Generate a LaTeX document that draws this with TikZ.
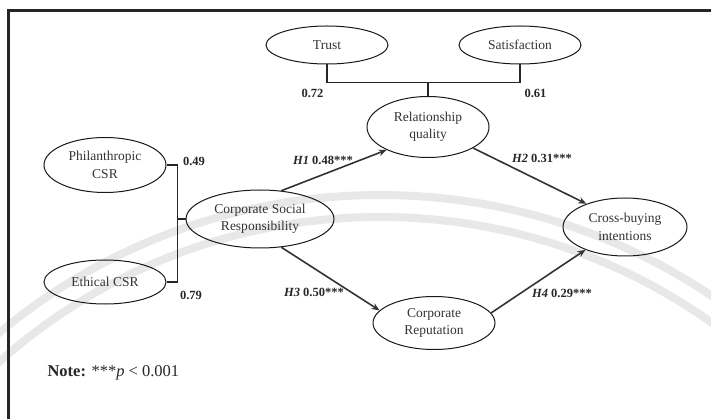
\documentclass[tikz,border=0pt]{standalone}
\usepackage{fontspec}
\setmainfont{Liberation Serif}
\usetikzlibrary{shapes.geometric,arrows.meta,calc}

\begin{document}
\begin{tikzpicture}[x=1pt,y=-1pt,
  latent/.style={ellipse, draw=black!90, line width=1pt, inner sep=0pt,
    align=center, font=\fontsize{13.5}{17.5}\selectfont, text=black!80},
  structural/.style={draw=black!80, line width=1.6pt,
    -{Stealth[length=8pt,width=6.5pt]}},
  loading/.style={draw=black!85, line width=1.3pt},
  coef/.style={font=\fontsize{12.5}{14}\selectfont\bfseries, text=black!85},
  seal/.style={draw=black!9, line width=8pt},
]
\useasboundingbox (0,0) rectangle (711,419);

% faint seal in the background
\begin{scope}
  \clip (0,0) rectangle (711,419);
  \draw[seal] (380,790) circle[radius=595pt];
  \draw[seal] (380,790) circle[radius=573pt];
\end{scope}

% frame
\draw[line width=3pt, black!85] (8.5,419) -- (8.5,11) -- (711,11);

% constructs
\node[latent, minimum width=122pt, minimum height=38pt] (trust) at (327,45) {Trust};
\node[latent, minimum width=122pt, minimum height=38pt] (sat)   at (520,45) {Satisfaction};
\node[latent, minimum width=122pt, minimum height=61pt] (rq)    at (428,127) {Relationship\\quality};
\node[latent, minimum width=122pt, minimum height=55pt] (phil)  at (105,165) {Philanthropic\\CSR};
\node[latent, minimum width=122pt, minimum height=44pt] (eth)   at (105,282) {Ethical CSR};
\node[latent, minimum width=148pt, minimum height=58pt] (csr)   at (260,219) {Corporate Social\\Responsibility};
\node[latent, minimum width=122pt, minimum height=53pt] (cr)    at (434,323) {Corporate\\Reputation};
\node[latent, minimum width=124pt, minimum height=58pt] (cbi)   at (625,227) {Cross-buying\\intentions};

% second-order loadings: relationship quality
\path (trust.south) ++(0,18) coordinate (tb);
\draw[loading] (trust.south) -- (tb) -| (sat.south);
\draw[loading] (rq.north) -- (rq.north |- tb);
\node[coef, anchor=north east] (l72) at ($(tb)+(0,3)$) {0.72};
\node[coef, anchor=north west] (l61) at ($(sat.south |- tb)+(1,3)$) {0.61};

% second-order loadings: CSR
\path (phil.east) ++(11,0) coordinate (pb);
\draw[loading] (phil.east) -- (pb) |- (eth.east);
\draw[loading] (csr.west) -- (csr.west -| pb);
\node[coef] (l49) at (194,161) {0.49};
\node[coef] (l79) at (191,295) {0.79};

% structural paths
\draw[structural] (csr.53)  -- (rq.209);
\draw[structural] (rq.-25)  -- (cbi.149);
\draw[structural] (csr.-53) -- (cr.167);
\draw[structural] (cr.10)   -- (cbi.210);

\node[coef] (h1) at (323,160) {\textit{H1} 0.48***};
\node[coef] (h2) at (542,158) {\textit{H2} 0.31***};
\node[coef] (h3) at (314,292) {\textit{H3} 0.50***};
\node[coef] (h4) at (562,293) {\textit{H4} 0.29***};

\node[anchor=west, font=\fontsize{16.5}{19}\selectfont, text=black!85] (note) at (44,373)
  {\textbf{Note:} ***\textit{p} < 0.001};
\end{tikzpicture}
\end{document}
